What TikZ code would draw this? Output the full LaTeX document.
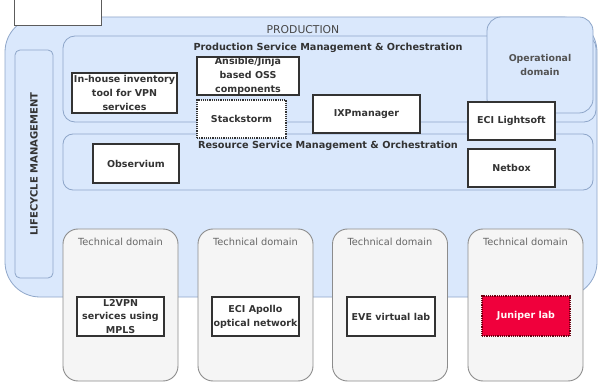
\documentclass[tikz,border=0pt]{standalone}
\usepackage{fontspec}
\setmainfont{DejaVu Sans}
\definecolor{pfill}{HTML}{DAE8FC}
\definecolor{pline}{HTML}{8EA6C9}
\definecolor{tfill}{HTML}{F5F5F5}
\definecolor{tline}{HTML}{8C8C8C}
\definecolor{jfill}{HTML}{F0003C}
\definecolor{jline}{HTML}{6A0010}
\definecolor{txt}{HTML}{333333}
\definecolor{gtxt}{HTML}{666666}
\tikzset{
  sz/.style 2 args={minimum width=#1pt, minimum height=#2pt},
  container/.style={draw=pline, fill=pfill, line width=0.8pt, inner sep=0pt},
  tdbox/.style={draw=tline, fill=tfill, line width=0.9pt, rounded corners=15pt, inner sep=0pt},
  tool/.style={draw=txt, fill=white, line width=1.2pt, inner sep=0pt, align=center,
    font=\fontsize{9.5}{13.8}\selectfont\bfseries, text=txt},
  title/.style={font=\fontsize{9.7}{11}\selectfont\bfseries, text=txt, inner sep=0pt},
  plain/.style={font=\fontsize{9.8}{11}\selectfont, text=gtxt, inner sep=0pt},
}
\begin{document}
\begin{tikzpicture}[x=1pt,y=-1pt]
\useasboundingbox (0,0) rectangle (600,382);
% production container
\node[container, sz={592}{280}, rounded corners=35pt] (prod) at (301,157) {};
\node[draw=txt!80, fill=white, line width=0.9pt, sz={87}{40}, inner sep=0pt] (tl) at (57.5,5) {};
\node[plain, text=txt!90, font=\fontsize{10.8}{12}\selectfont] (prodlbl) at (303,30) {PRODUCTION};
% lifecycle
\node[container, sz={38}{228}, rounded corners=5pt] (life) at (34,164) {};
\node[title, rotate=90, font=\fontsize{10}{11}\selectfont\bfseries] (lifelbl) at (34,164) {LIFECYCLE MANAGEMENT};
% production service mgmt
\node[container, sz={533}{86}, rounded corners=12pt] (psm) at (329.5,79) {};
\node[title] (psmlbl) at (328,48) {Production Service Management \& Orchestration};
% resource service mgmt
\node[container, sz={530}{56}, rounded corners=10pt] (rsm) at (328,162) {};
\node[title] (rsmlbl) at (328,146) {Resource Service Management \& Orchestration};
% operational domain
\node[container, sz={106}{96}, rounded corners=14pt, align=center,
      font=\fontsize{9.4}{14}\selectfont\bfseries, text=txt!85] (opd) at (540,65) {Operational\\domain};
% tools
\node[tool, sz={105}{40}] (inh) at (124.5,93) {In-house inventory\\tool for VPN\\services};
\node[tool, sz={102}{38}] (ans) at (248,76) {Ansible/Jinja\\based OSS\\components};
\node[tool, sz={89}{38}, densely dotted, line width=1.5pt] (st2) at (241.5,119) {Stackstorm};
\node[tool, sz={107}{38}] (ixp) at (366.5,114) {IXPmanager};
\node[tool, sz={87}{38}] (eci) at (511.5,121) {ECI Lightsoft};
\node[tool, sz={86}{39}] (obs) at (136,163.5) {Observium};
\node[tool, sz={87}{38}] (nbx) at (511.5,168) {Netbox};
% technical domains
\foreach \i/\x in {1/120.5, 2/255.5, 3/390, 4/525.5} {
  \node[tdbox, sz={115}{152}] (td\i) at (\x,305) {};
  \node[plain] (tdl\i) at (\x,242) {Technical domain};
}
\node[tool, sz={87}{39}] (l2v) at (120.5,316.5) {L2VPN\\services using\\MPLS};
\node[tool, sz={87}{39}] (apo) at (255.5,316.5) {ECI Apollo\\optical network};
\node[tool, sz={88}{39}] (eve) at (391,316.5) {EVE virtual lab};
\node[tool, sz={88}{40}, fill=jfill, draw=jline, densely dotted, line width=1.5pt, text=white!90!pink] (jun) at (526,316) {Juniper lab};
\end{tikzpicture}
\end{document}
